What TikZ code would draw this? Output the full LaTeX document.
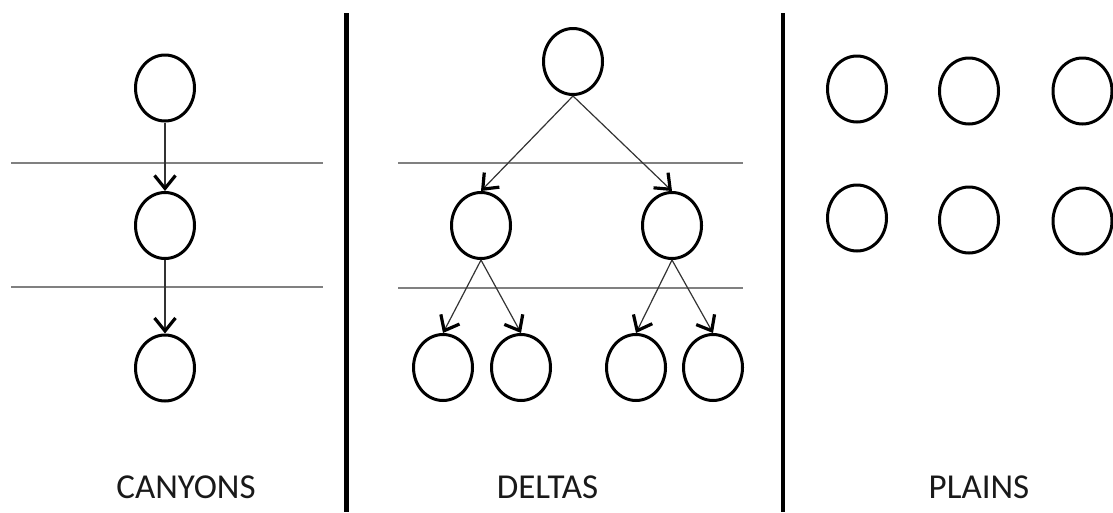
\documentclass[tikz,border=0pt]{standalone}
\usepackage{fontspec}
\setmainfont{Carlito}
\usetikzlibrary{shapes.geometric,arrows.meta}
\begin{document}
\begin{tikzpicture}[x=1pt,y=-1pt,
  blob/.style={ellipse,draw=black,line width=3pt,minimum width=59pt,minimum height=66pt,inner sep=0pt},
  flow/.style={draw=black!80,line width=1.2pt,-{Straight Barb[length=13pt,width=21pt,line width=3.2pt,color=black]}},
  layer/.style={draw=black!50,line width=2pt},
  divider/.style={draw=black,line width=4.5pt},
  caption/.style={anchor=base,font=\fontsize{35}{40}\selectfont,text=black!90,inner sep=0pt}]
\useasboundingbox (0,0) rectangle (1113,512);

% panel dividers
\draw[divider] (346.5,13) -- (346.5,512);
\draw[divider] (783,13) -- (783,512);

% layer lines
\draw[layer] (11,163) -- (323,163);
\draw[layer] (11,287) -- (323,287);
\draw[layer] (398,163) -- (743,163);
\draw[layer] (398,288) -- (743,288);

% canyons: a single chain
\node[blob] (c1) at (165,88) {};
\node[blob] (c2) at (165,225.5) {};
\node[blob] (c3) at (165,368) {};
\draw[flow] (c1.south) -- (c2.north);
\draw[flow] (c2.south) -- (c3.north);

% deltas: a branching tree
\node[blob] (d0) at (573,61.5) {};
\node[blob] (d1) at (481,225.5) {};
\node[blob] (d2) at (672,225.5) {};
\node[blob] (d11) at (443,367.5) {};
\node[blob] (d12) at (521,367.5) {};
\node[blob] (d21) at (636,367.5) {};
\node[blob] (d22) at (713,367.5) {};
\draw[flow] (d0.south) -- (d1.north);
\draw[flow] (d0.south) -- (d2.north);
\draw[flow] (d1.south) -- (d11.north);
\draw[flow] (d1.south) -- (d12.north);
\draw[flow] (d2.south) -- (d21.north);
\draw[flow] (d2.south) -- (d22.north);

% plains: unconnected grid
\node[blob] (p1) at (857,89) {};
\node[blob] (p2) at (969,91) {};
\node[blob] (p3) at (1082.5,91) {};
\node[blob] (p4) at (857,218) {};
\node[blob] (p5) at (969,220) {};
\node[blob] (p6) at (1082.5,221) {};

% captions
\node[caption] (tc) at (186,498) {CANYONS};
\node[caption] (td) at (547.5,498) {DELTAS};
\node[caption] (tp) at (979,498) {PLAINS};
\end{tikzpicture}
\end{document}
